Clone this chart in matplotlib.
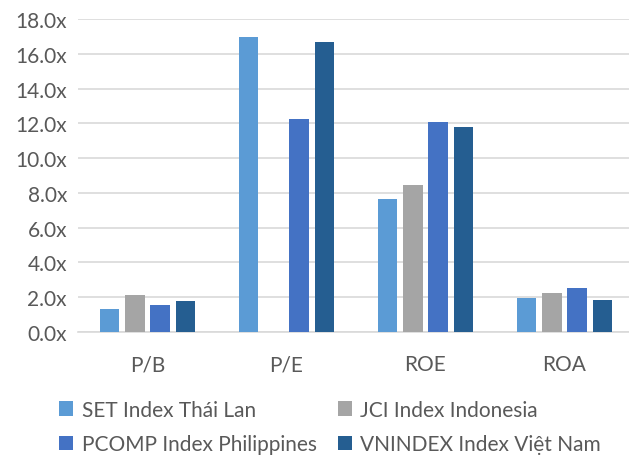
import matplotlib.pyplot as plt
import numpy as np

plt.rcParams['font.family'] = ['Lato', 'DejaVu Sans']

categories = ["P/B", "P/E", "ROE", "ROA"]
series_names = [
    "SET Index Thái Lan",
    "JCI Index Indonesia",
    "PCOMP Index Philippines",
    "VNINDEX Index Việt Nam",
]
set_thai = [1.34, 16.95, 7.65, 1.97]
jci_indo = [2.15, 0.0, 8.43, 2.22]
pcomp_phil = [1.53, 12.27, 12.08, 2.53]
vnindex_vn = [1.78, 16.70, 11.79, 1.86]
y_ticks = [0, 2, 4, 6, 8, 10, 12, 14, 16, 18]

colors = ["#5B9BD5", "#A5A5A5", "#4472C4", "#255E91"]


def main():
    fig = plt.figure(figsize=(6.29, 4.56), dpi=100)
    ax = fig.add_axes([78 / 629, 123 / 456, 556 / 629, 313 / 456])

    x = np.arange(len(categories))
    width = 0.14
    step = 0.182
    data = [set_thai, jci_indo, pcomp_phil, vnindex_vn]
    bars = []
    for i, (vals, name, c) in enumerate(zip(data, series_names, colors)):
        b = ax.bar(x + (i - 1.5) * step, vals, width, color=c, label=name, zorder=3)
        bars.append(b)

    ax.set_xlim(-0.5, len(categories) - 0.5)
    ax.set_ylim(0, 18)
    ax.set_yticks(y_ticks)
    ax.set_yticklabels([f"{v:.1f}x" for v in y_ticks])
    ax.set_xticks(x)
    ax.set_xticklabels(categories)
    ax.tick_params(length=0, labelsize=15, colors="#595959")
    ax.tick_params(axis="x", pad=16)
    ax.tick_params(axis="y", pad=8)
    ax.grid(axis="y", color="#D9D9D9", linewidth=1.2, zorder=0)
    for s in ["top", "right", "left"]:
        ax.spines[s].set_visible(False)
    ax.spines["bottom"].set_color("#D9D9D9")
    ax.spines["bottom"].set_linewidth(1.2)

    # legend fills column-wise, so reorder to read row by row
    order = [0, 2, 1, 3]
    fig.legend(
        [bars[i] for i in order],
        [series_names[i] for i in order],
        loc="upper left",
        bbox_to_anchor=(40 / 629, 1 - 382 / 456),
        ncol=2,
        frameon=False,
        fontsize=15,
        labelcolor="#595959",
        handlelength=0.7,
        handleheight=0.7,
        handletextpad=0.4,
        columnspacing=1.0,
        labelspacing=0.7,
    )

    fig.savefig("out.png", dpi=100)


if __name__ == "__main__":
    main()
